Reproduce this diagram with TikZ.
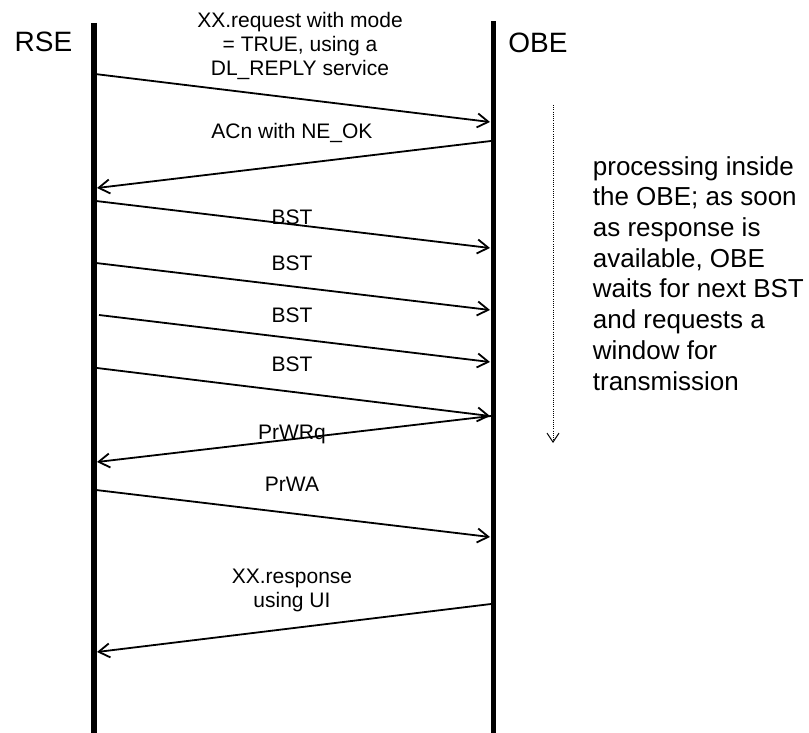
\documentclass[tikz,border=0pt]{standalone}
\usepackage{fontspec}
\setmainfont{Liberation Sans}
\usetikzlibrary{arrows.meta}
\begin{document}
\begin{tikzpicture}[x=1pt,y=-1pt,
  lifeline/.style={line width=5.5pt},
  msg/.style={line width=1.8pt, -{Straight Barb[length=11pt,width=14pt,line width=1.8pt]}},
  lbl/.style={font=\fontsize{21}{24}\selectfont, inner sep=0pt, anchor=base, align=center},
  actor/.style={font=\fontsize{28}{32}\selectfont, inner sep=0pt, anchor=base},
  note/.style={font=\fontsize{26}{30.7}\selectfont, inner sep=0pt, anchor=base west, align=left},
  proc/.style={line width=0.8pt, dash pattern=on 1pt off 1.2pt, -{Straight Barb[length=9pt,width=12pt,line width=1pt]}}]
\useasboundingbox (0,0) rectangle (809,733);
% actors
\node[actor] (rse) at (43.5,52) {RSE};
\node[actor] (obe) at (538,52.3) {OBE};
% lifelines
\coordinate (rseTop) at (94,23);
\coordinate (rseBot) at (94,733);
\coordinate (obeTop) at (493.5,21.5);
\coordinate (obeBot) at (493.5,733);
\draw[lifeline] (rseTop) -- (rseBot);
\draw[lifeline] (obeTop) -- (obeBot);
% message end points
\coordinate (m1a) at (95,74);   \coordinate (m1b) at (490,122);
\coordinate (m2a) at (491,141); \coordinate (m2b) at (97,188);
\coordinate (m3a) at (96,201);  \coordinate (m3b) at (490,248);
\coordinate (m4a) at (96,263);  \coordinate (m4b) at (490,310);
\coordinate (m5a) at (99,315);  \coordinate (m5b) at (490,362);
\coordinate (m6a) at (97,368);  \coordinate (m6b) at (490,416);
\coordinate (m7a) at (491,416); \coordinate (m7b) at (97,462);
\coordinate (m8a) at (96,490);  \coordinate (m8b) at (490,537);
\coordinate (m9a) at (491,604); \coordinate (m9b) at (97,652);
\draw[msg] (m1a) -- (m1b);
\draw[msg] (m2a) -- (m2b);
\draw[msg] (m3a) -- (m3b);
\draw[msg] (m4a) -- (m4b);
\draw[msg] (m5a) -- (m5b);
\draw[msg] (m6a) -- (m6b);
\draw[msg] (m7a) -- (m7b);
\draw[msg] (m8a) -- (m8b);
\draw[msg] (m9a) -- (m9b);
% labels
\node[lbl] (l1) at (300,76) {XX.request with mode\\= TRUE, using a\\DL\_REPLY service};
\node[lbl] (l2) at (292,139) {ACn with NE\_OK};
\node[lbl] (l3) at (292,224) {BST};
\node[lbl] (l4) at (292,270) {BST};
\node[lbl] (l5) at (292,322.5) {BST};
\node[lbl] (l6) at (292,371) {BST};
\node[lbl] (l7) at (292,439) {PrWRq};
\node[lbl] (l8) at (292,491) {PrWA};
\node[lbl] (l9) at (292,607) {XX.response\\using UI};
% processing note
\coordinate (pTop) at (553,105);
\coordinate (pBot) at (553,443);
\draw[proc] (pTop) -- (pBot);
\node[note] (note) at (592.7,390) {processing inside\\the OBE; as soon\\as response is\\available, OBE\\waits for next BST\\and requests a\\window for\\transmission};
\end{tikzpicture}
\end{document}
